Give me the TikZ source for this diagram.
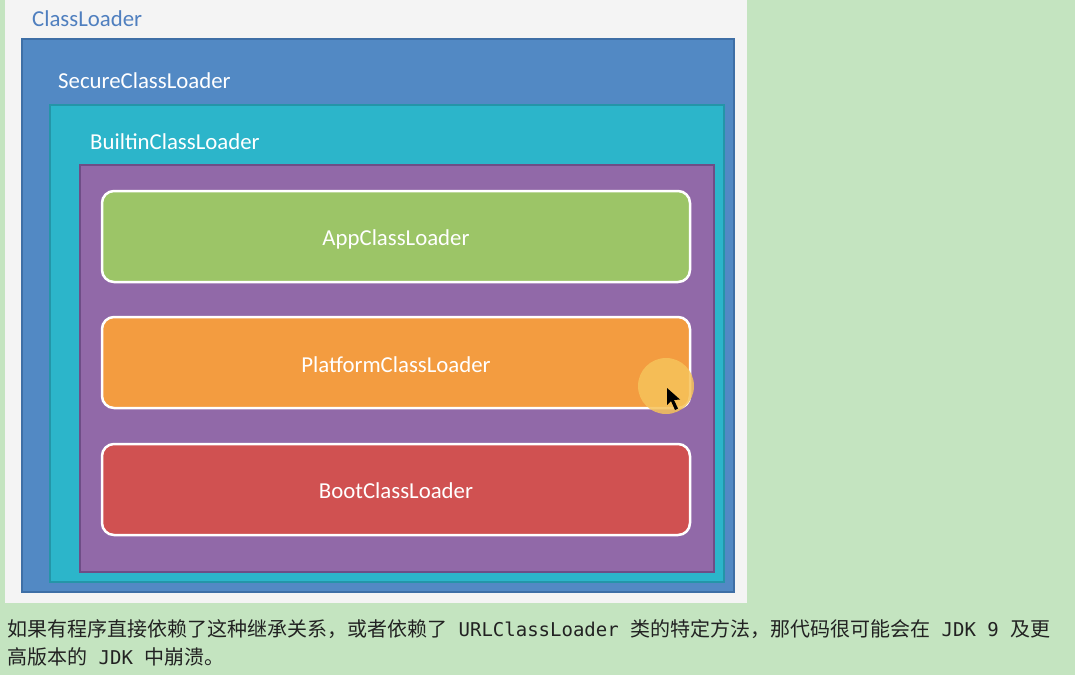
\documentclass[tikz,border=0pt]{standalone}
\usepackage{fontspec}
\setmainfont{Carlito}
\newfontfamily\cjk{Noto Sans CJK SC}
\newfontfamily\monof{DejaVu Sans Mono}
\definecolor{bggreen}{HTML}{C4E4C0}
\definecolor{panel}{HTML}{F4F4F4}
\definecolor{cblue}{HTML}{5289C4}
\definecolor{cblueb}{HTML}{3E6FA6}
\definecolor{cteal}{HTML}{2CB5CA}
\definecolor{ctealb}{HTML}{2495A8}
\definecolor{cpurple}{HTML}{9169A8}
\definecolor{cpurpleb}{HTML}{6E4D86}
\definecolor{cgreen}{HTML}{9CC567}
\definecolor{corange}{HTML}{F39C40}
\definecolor{cred}{HTML}{D05151}
\definecolor{ctitle}{HTML}{4F7FBF}
\definecolor{ctext}{HTML}{222222}
\definecolor{chl}{HTML}{F6C35A}
\tikzset{
  layer/.style={line width=1.5pt},
  inner/.style={draw=white, line width=2.5pt, rounded corners=12pt},
  lbl/.style={anchor=base west, inner sep=0pt, font=\fontsize{22.8}{26}\selectfont, text=white},
  boxlbl/.style={inner sep=0pt, font=\fontsize{22.8}{26}\selectfont, text=white},
  para/.style={anchor=base west, inner sep=0pt, font=\cjk\fontsize{20}{24}\selectfont, text=ctext}
}
\newcommand{\mt}[1]{{\monof\fontsize{19}{24}\selectfont #1}}
\begin{document}
\begin{tikzpicture}[x=1pt,y=-1pt]
\useasboundingbox (0,0) rectangle (1075,675);
\fill[bggreen] (0,0) rectangle (1075,675);
\fill[panel] (5,0) rectangle (747,603);
% layers
\draw[layer, fill=cblue, draw=cblueb] (22,39) rectangle (734,592);
\draw[layer, fill=cteal, draw=ctealb] (50,105) rectangle (724,582);
\draw[layer, fill=cpurple, draw=cpurpleb] (80,165) rectangle (714,572);
% labels
\node[lbl, text=ctitle] (l1) at (32,26) {ClassLoader};
\node[lbl] (l2) at (58,88) {SecureClassLoader};
\node[lbl] (l3) at (90,149) {BuiltinClassLoader};
% inner boxes
\draw[inner, fill=cgreen] (102,191) rectangle (690,282);
\node[boxlbl] (app) at (396,239) {AppClassLoader};
\draw[inner, fill=corange] (102,317) rectangle (690,408);
\node[boxlbl] (plat) at (396,365) {PlatformClassLoader};
\draw[inner, fill=cred] (102,444) rectangle (690,535);
\node[boxlbl] (boot) at (396,491) {BootClassLoader};
% cursor highlight
\fill[chl, opacity=0.85] (666,386) circle (28);
\fill[black] (667,388) -- (667,405) -- (671,401) -- (675,410) -- (678,408.5) -- (674,400) -- (680,399.5) -- cycle;
% paragraph
\node[para] (p1) at (7,636) {如果有程序直接依赖了这种继承关系，或者依赖了\mt{\ URLClassLoader\ }类的特定方法，那代码很可能会在\mt{\ JDK 9\ }及更};
\node[para] (p2) at (7,664) {高版本的\mt{\ JDK\ }中崩溃。};
\end{tikzpicture}
\end{document}
